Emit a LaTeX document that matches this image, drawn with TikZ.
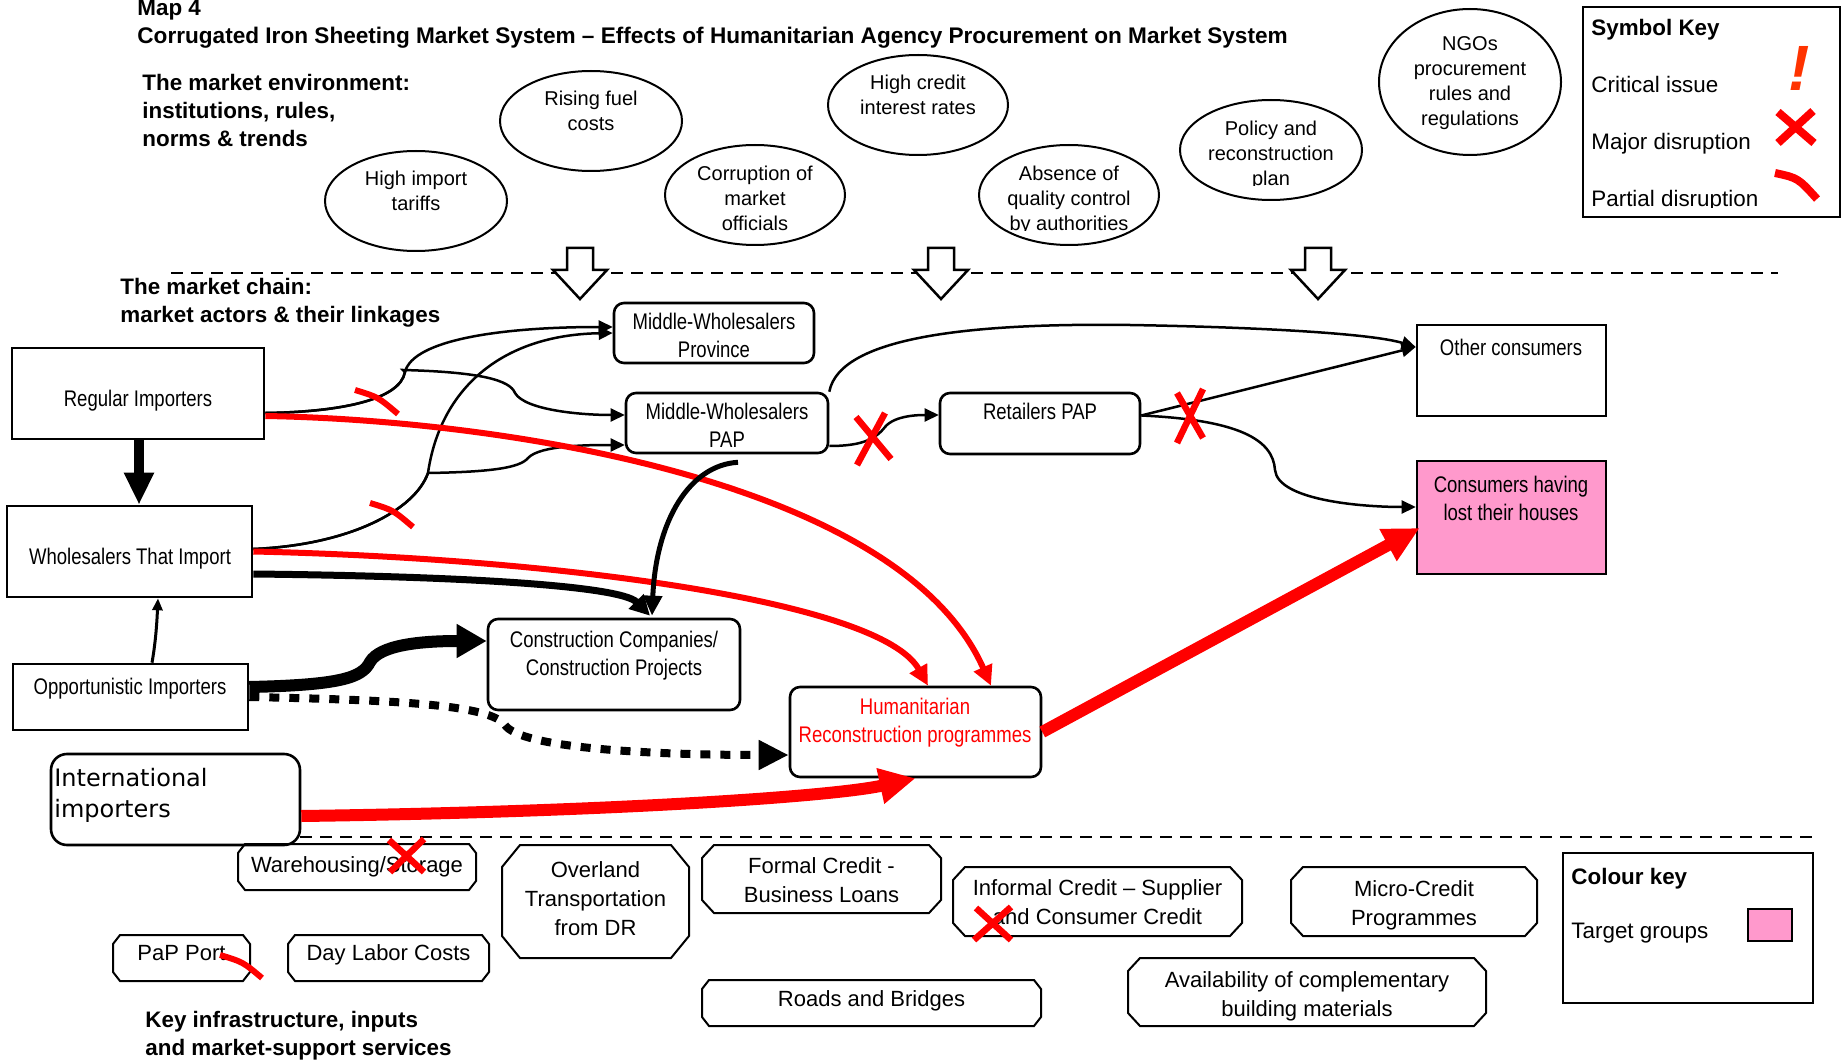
\documentclass[tikz,border=0pt]{standalone}
\usepackage{fontspec}
\setmainfont{Liberation Sans}
\newfontfamily\narrowsans{Liberation Sans}[FakeStretch=0.82]
\newfontfamily\djv{DejaVu Sans}
\usetikzlibrary{arrows.meta,fit,calc,shapes.geometric}
\definecolor{pinkfill}{RGB}{255,153,204}
\definecolor{bangred}{RGB}{255,51,0}
\definecolor{mred}{RGB}{255,0,0}
\tikzset{
  sqbox/.style={draw, line width=1.3pt, inner sep=0pt},
  rdbox/.style={sqbox, rounded corners=5pt},
  ctxt/.style={font=\narrowsans\fontsize{11.3pt}{14pt}\selectfont, align=center, inner sep=0pt},
  etxt/.style={font=\fontsize{10pt}{12.5pt}\selectfont, align=center, inner sep=0pt},
  btxt/.style={font=\fontsize{11pt}{14.5pt}\selectfont, align=center, inner sep=0pt},
  ktxt/.style={font=\fontsize{11.2pt}{14pt}\selectfont, anchor=base west, inner sep=0pt},
  hdr/.style={font=\bfseries\fontsize{11.2pt}{14pt}\selectfont, anchor=base west, inner sep=0pt},
  oval/.style={draw, ellipse, line width=1pt, inner sep=0pt},
  lnk/.style={line width=1.25pt, -{Triangle[length=7pt,width=6.5pt]}},
  redmid/.style={mred, line width=3pt, -{Triangle[length=10pt,width=9.5pt]}},
  redthick/.style={mred, line width=6pt, -{Triangle[length=18pt,width=17pt]}},
  xmark/.style={mred, line width=3.25pt},
  pmark/.style={mred, line width=3pt},
  sepline/.style={line width=1pt, dash pattern=on 6pt off 4pt},
  blockarrow/.style={draw, fill=white, line width=1.25pt},
  chamf/.style={draw, line width=1pt},
}
\newcommand\blockdown[1]{\draw[blockarrow] ({#1-13},248) -- ({#1+13},248) -- ({#1+13},270) -- ({#1+27},270) -- (#1,299) -- ({#1-27},270) -- ({#1-13},270) -- cycle;}
\newcommand\chbox[6]{\draw[chamf] ({#1+#5},#2) -- ({#3-#5},#2) -- (#3,{#2+#6}) -- (#3,{#4-#6}) -- ({#3-#5},#4) -- ({#1+#5},#4) -- (#1,{#4-#6}) -- (#1,{#2+#6}) -- cycle;}
\begin{document}
\begin{tikzpicture}[x=0.5pt,y=-0.5pt]
\useasboundingbox (0,0) rectangle (1842,1064);

% ---------- headings ----------
\node[hdr] (map) at (137,16) {Map 4};
\node[hdr, font=\bfseries\fontsize{11.3pt}{14pt}\selectfont] (title) at (137,44) {Corrugated Iron Sheeting Market System – Effects of Humanitarian Agency Procurement on Market System};
\node[hdr] (env1) at (142,91) {The market environment:};
\node[hdr] (env2) at (142,119) {institutions, rules,};
\node[hdr] (env3) at (142,147) {norms \& trends};
\node[hdr] (chain1) at (120,294) {The market chain:};
\node[hdr] (chain2) at (120,322) {market actors \& their linkages};
\node[hdr] (infra1) at (145,1027) {Key infrastructure, inputs};
\node[hdr] (infra2) at (145,1055) {and market-support services};

% ---------- environment ellipses ----------
\node[oval, minimum width=91pt, minimum height=50pt] (e1) at (416,201) {};
\node[etxt] (e1t) at (416,191) {High import\\tariffs};
\node[oval, minimum width=91pt, minimum height=50pt] (e2) at (591,121) {};
\node[etxt] (e2t) at (591,111) {Rising fuel\\costs};
\node[oval, minimum width=90pt, minimum height=50pt] (e3) at (755,195) {};
\node[etxt] (e3t) at (755,198) {Corruption of\\market\\officials};
\node[oval, minimum width=90pt, minimum height=50pt] (e4) at (918,105) {};
\node[etxt] (e4t) at (918,95) {High credit\\interest rates};
\node[oval, minimum width=90pt, minimum height=50pt] (e5) at (1069,195) {};
\begin{scope}
\clip (960,140) rectangle (1180,231);
\node[etxt] (e5t) at (1069,200) {Absence of\\quality control\\by authorities};
\end{scope}
\node[oval, minimum width=91pt, minimum height=50pt] (e6) at (1271,150) {};
\begin{scope}
\clip (1170,95) rectangle (1370,186);
\node[etxt] (e6t) at (1271,155) {Policy and\\reconstruction\\plan};
\end{scope}
\node[oval, minimum width=91pt, minimum height=73pt] (e7) at (1470,82) {};
\node[etxt] (e7t) at (1470,83) {NGOs\\procurement\\rules and\\regulations};

% ---------- symbol key ----------
\node[draw, line width=1.25pt, inner sep=0pt, fit={(1583,7) (1840,217)}] (symkey) {};
\node[hdr] (symt) at (1591,36) {Symbol Key};
\node[ktxt] (crit) at (1591,93) {Critical issue};
\node[ktxt] (major) at (1591,150) {Major disruption};
\begin{scope}
\clip (1585,150) rectangle (1838,208);
\node[ktxt] (partial) at (1591,207) {Partial disruption};
\end{scope}
\node[text=bangred, font=\bfseries\itshape\fontsize{32pt}{32pt}\selectfont, inner sep=0pt] (bang) at (1799,68) {!};
\draw[mred, line width=4pt] (1778,112) -- (1814,143) (1813,111) -- (1778,143);
\draw[pmark, line width=4pt] (1775,173) .. controls (1798,178) .. (1817,199);

% ---------- separator lines and block arrows ----------
\draw[sepline] (171,273) -- (1778,273);
\draw[sepline] (300,837) -- (1812,837);
\blockdown{580}
\blockdown{941}
\blockdown{1318}

% ---------- market chain boxes ----------
\node[sqbox, fit={(12,348) (264,439)}] (reg) {};
\node[ctxt] (regt) at (138,401) {Regular Importers};
\node[sqbox, fit={(7,506) (252,597)}] (wh) {};
\node[ctxt] (wht) at (130,559) {Wholesalers That Import};
\node[sqbox, fit={(13,664) (248,730)}] (opp) {};
\node[ctxt] (oppt) at (130,689) {Opportunistic Importers};
\node[rdbox, fit={(614,303) (814,363)}] (prov) {};
\node[ctxt] (provt) at (714,335) {Middle-Wholesalers\\Province};
\node[rdbox, fit={(626,393) (828,453)}] (pap) {};
\node[ctxt] (papt) at (727,425.5) {Middle-Wholesalers\\PAP};
\node[rdbox, fit={(940,393) (1140,454)}] (ret) {};
\node[ctxt] (rett) at (1040,411) {Retailers PAP};
\node[sqbox, fit={(1417,325) (1606,416)}] (oth) {};
\node[ctxt] (otht) at (1511,347) {Other consumers};
\node[sqbox, fill=pinkfill, fit={(1417,461) (1606,574)}] (cons) {};
\node[ctxt] (const) at (1511,498) {Consumers having\\lost their houses};
\node[rdbox, fit={(488,619) (740,710)}] (con) {};
\node[ctxt] (cont) at (614,656) {Construction Companies/\\Construction Projects};
\node[rdbox, fit={(790,687) (1041,777)}] (hum) {};
\node[ctxt, text=mred] (humt) at (915,723) {Humanitarian\\Reconstruction programmes};
\node[sqbox, rounded corners=8pt, fit={(51,754) (300,845)}] (intl) {};
\node[font=\djv\fontsize{12pt}{15.5pt}\selectfont, align=left, anchor=west, inner sep=0pt] (intlt) at (54,795) {International\\importers};

% ---------- connectors ----------
\draw[line width=5pt, -{Triangle[length=16pt,width=14pt]}] ($(reg.south)+(1,0)$) -- ($(wh.north)+(9.5,0)$);
\draw[line width=1.5pt, -{Triangle[length=6pt,width=5pt]}] ($(opp.north)+(21.5,0)$) .. controls (156,640) and (157,620) .. ($(wh.south)+(28.5,0)$);

\draw[lnk] ($(reg.east)+(0,19.5)$) .. controls (340,412) and (400,400) .. (405,372) .. controls (413,340) and (500,327) .. ($(prov.west)+(0,-6)$);
\draw[lnk] ($(reg.east)+(0,19.5)$) .. controls (340,412) and (400,400) .. (405,372) -- (403,370) .. controls (480,372) and (510,380) .. (515,393) .. controls (525,410) and (580,415) .. ($(pap.west)+(0,-8)$);
\draw[lnk] ($(wh.east)+(0,-2.5)$) .. controls (350,545) and (415,510) .. (428,473) .. controls (440,390) and (500,335) .. (prov.west);
\draw[lnk] ($(wh.east)+(0,-2.5)$) .. controls (350,545) and (415,510) .. (428,473) .. controls (490,472) and (520,468) .. (528,458) .. controls (540,445) and (590,445) .. ($(pap.west)+(0,22)$);

\draw[lnk] ($(pap.east)+(0,23)$) .. controls (860,446) and (875,440) .. (885,427) .. controls (895,415) and (920,415) .. ($(ret.west)+(0,-8.5)$);
\draw[lnk] (pap.north east) .. controls (840,335) and (980,323) .. (1130,325) .. controls (1250,327) and (1370,333) .. ($(oth.west)+(0,-23.5)$);
\draw[lnk] ($(ret.east)+(0,-8)$) -- ($(oth.west)+(0,-23.5)$);
\draw[lnk] ($(ret.east)+(0,-8)$) .. controls (1240,420) and (1273,440) .. (1275,470) .. controls (1278,500) and (1360,507) .. ($(cons.west)+(0,-10.5)$);

\draw[redmid] ($(reg.east)+(0,22.5)$) .. controls (500,420) and (900,480) .. ($(hum.north)+(75.5,0)$);
\draw[redmid] (wh.east) .. controls (550,558) and (880,600) .. ($(hum.north)+(12.5,0)$);

\draw[line width=3.5pt, -{Triangle[length=10pt,width=10pt]}] ($(wh.east)+(0,22.5)$) .. controls (450,576) and (620,585) .. ($(con.north)+(36,-2)$);
\draw[line width=2.5pt, -{Triangle[length=10pt,width=9pt]}] ($(pap.south)+(11,8)$) .. controls (690,465) and (656,520) .. ($(con.north)+(38,-2)$);
\draw[line width=6pt, -{Triangle[length=15pt,width=16pt]}] ($(opp.east)+(0,-10)$) .. controls (340,685) and (362,678) .. (370,662) .. controls (380,645) and (420,641) .. ($(con.west)+(0,-23.5)$);
\draw[line width=4pt, dash pattern=on 5pt off 5pt, -{Triangle[length=15pt,width=14pt]}] (opp.east) .. controls (400,700) and (490,705) .. (505,725) .. controls (520,748) and (650,755) .. ($(hum.west)+(0,23)$);

\draw[redthick] ($(intl.east)+(0,16.5)$) .. controls (600,812) and (830,797) .. (hum.south);
\draw[redthick] (hum.east) -- ($(cons.west)+(4,10.5)$);

% disruption marks on the chain
\draw[pmark] (355,390) .. controls (378,397) .. (398,414);
\draw[pmark] (370,503) .. controls (393,510) .. (413,527);
\draw[xmark] (856,417) -- (891,459) (885,413) -- (857,465);
\draw[xmark] (1203,389) -- (1177,443) (1177,393) -- (1203,438);

% ---------- infrastructure / services ----------
\chbox{238}{844}{476}{890}{7}{9}
\node[btxt] (ware) at (357,867) {Warehousing/Storage};
\chbox{502}{845}{689}{958}{18}{22}
\node[btxt] (over) at (595.5,898.5) {Overland\\Transportation\\from DR};
\chbox{702}{845}{941}{913}{12}{13}
\node[btxt] (formal) at (821.5,880.5) {Formal Credit -\\Business Loans};
\chbox{113}{935}{250}{981}{7}{9}
\node[btxt] (port) at (181.5,953) {PaP Port};
\chbox{288}{935}{489}{981}{7}{9}
\node[btxt] (labor) at (388.5,955) {Day Labor Costs};
\chbox{702}{980}{1041}{1026}{7}{9}
\node[btxt] (roads) at (871.5,1001) {Roads and Bridges};
\chbox{953}{867}{1242}{936}{12}{13}
\node[btxt] (informal) at (1097.5,902.5) {Informal Credit – Supplier\\and Consumer Credit};
\chbox{1291}{867}{1537}{936}{12}{13}
\node[btxt] (micro) at (1414,905) {Micro-Credit\\Programmes};
\chbox{1128}{958}{1486}{1026}{12}{13}
\node[btxt] (avail) at (1307,996) {Availability of complementary\\building materials};
\draw[xmark] (389,840) -- (424,872) (424,839) -- (390,872);
\draw[xmark] (976,908) -- (1011,940) (1011,907) -- (974,940);
\draw[pmark] (220,955) .. controls (243,962) .. (262,978);

% ---------- colour key ----------
\node[draw, line width=1pt, inner sep=0pt, fit={(1563,853) (1813,1003)}] (colkey) {};
\node[hdr] (colt) at (1571,884) {Colour key};
\node[ktxt] (target) at (1571,938) {Target groups};
\node[draw, fill=pinkfill, line width=1pt, inner sep=0pt, fit={(1748,909) (1792,941)}] (swatch) {};
\end{tikzpicture}
\end{document}
